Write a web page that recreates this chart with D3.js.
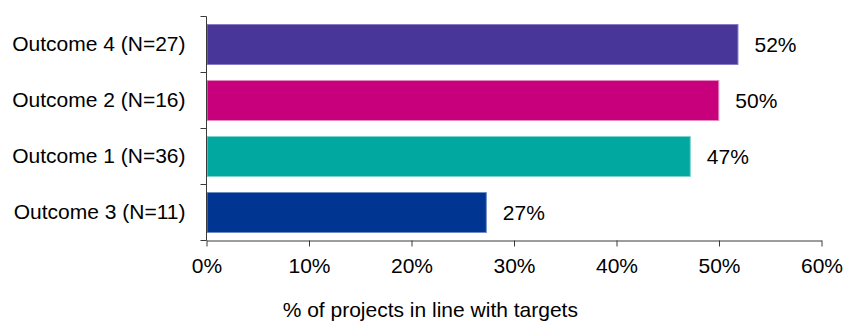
<!DOCTYPE html>
<html>
<head>
<meta charset="utf-8">
<script src="https://cdn.jsdelivr.net/npm/d3@7"></script>
<style>
  html, body { margin: 0; padding: 0; background: #fff; }
  svg { display: block; font-family: "Liberation Sans", Arial, sans-serif; }
</style>
</head>
<body>
<svg id="chart" width="846" height="322"></svg>
<script>
// Outcome categories, listed top to bottom
const categories = [
  "Outcome 4 (N=27)",
  "Outcome 2 (N=16)",
  "Outcome 1 (N=36)",
  "Outcome 3 (N=11)"
];
// Share of projects in line with targets
const shares = [0.5185, 0.4998, 0.472, 0.273];
const barColors = ["#483698", "#c8007c", "#00a8a0", "#003591"];
const edgeColors = ["#8a7cc4", "#e58ac0", "#7fd3cf", "#6f8cc4"];
const xTicks = [0, 0.1, 0.2, 0.3, 0.4, 0.5, 0.6];
const xTitle = "% of projects in line with targets";

const svg = d3.select("#chart");
const fontSize = 21;
const axisColor = "#3a3a3a";

const x = d3.scaleLinear().domain([0, 0.6]).range([206.5, 821.5]);
const y = d3.scaleBand()
  .domain(categories)
  .range([16.5, 240.5])
  .paddingInner(0.286)
  .paddingOuter(0.143);

const pct = d3.format(".0%");
const rows = categories.map((c, i) => ({ cat: c, v: shares[i], fill: barColors[i], edge: edgeColors[i] }));

// Bars
svg.append("g").selectAll("rect")
  .data(rows)
  .join("rect")
  .attr("x", x(0) + 0.5)
  .attr("y", d => y(d.cat))
  .attr("width", d => x(d.v) - x(0) - 0.5)
  .attr("height", y.bandwidth())
  .attr("fill", d => d.fill)
  .attr("stroke", d => d.edge)
  .attr("stroke-width", 1);

// Value labels
svg.append("g").selectAll("text")
  .data(rows)
  .join("text")
  .attr("x", d => x(d.v) + 16.5)
  .attr("y", d => y(d.cat) + y.bandwidth() / 2)
  .attr("dy", "0.35em")
  .attr("font-size", fontSize)
  .attr("fill", "#000")
  .text(d => pct(d.v));

// Bottom axis
const xAxis = svg.append("g")
  .attr("transform", `translate(0,${y.range()[1]})`)
  .call(d3.axisBottom(x).tickValues(xTicks).tickFormat(pct).tickSize(6).tickSizeOuter(0).tickPadding(12));
xAxis.select(".domain").attr("stroke", axisColor);
xAxis.selectAll(".tick line").attr("stroke", axisColor);
xAxis.selectAll(".tick text")
  .attr("font-size", fontSize)
  .attr("font-family", "'Liberation Sans', Arial, sans-serif")
  .attr("fill", "#000");

// Left axis: category labels, with tick marks at the band boundaries
const yAxis = svg.append("g")
  .attr("transform", `translate(${x(0)},0)`)
  .call(d3.axisLeft(y).tickSize(0).tickPadding(21));
yAxis.select(".domain").remove();
yAxis.selectAll(".tick text")
  .attr("font-size", fontSize)
  .attr("font-family", "'Liberation Sans', Arial, sans-serif")
  .attr("fill", "#000");

const half = (y.step() - y.bandwidth()) / 2;
const bounds = categories.map(c => y(c) - half).concat([y.range()[1]]);
svg.append("line")
  .attr("x1", x(0)).attr("x2", x(0))
  .attr("y1", bounds[0]).attr("y2", y.range()[1])
  .attr("stroke", axisColor);
svg.append("g").selectAll("line")
  .data(bounds)
  .join("line")
  .attr("x1", x(0) - 6).attr("x2", x(0))
  .attr("y1", d => Math.round(d - 0.5) + 0.5)
  .attr("y2", d => Math.round(d - 0.5) + 0.5)
  .attr("stroke", axisColor);

// Axis title
svg.append("text")
  .attr("x", 430.3)
  .attr("y", 317)
  .attr("text-anchor", "middle")
  .attr("font-size", fontSize)
  .attr("fill", "#000")
  .text(xTitle);
</script>
</body>
</html>
